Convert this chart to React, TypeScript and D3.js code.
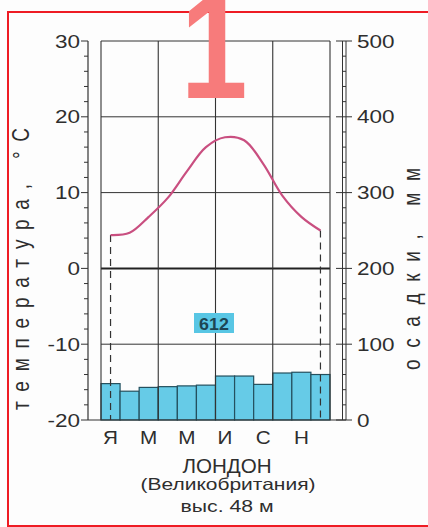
import React from 'react';
import * as d3 from 'd3';

// London climate: monthly mean temperature (°C) and precipitation (mm)
const months = ['Я', 'Ф', 'М', 'А', 'М', 'И', 'И', 'А', 'С', 'О', 'Н', 'Д'];
const temperature = [4.4, 4.7, 6.8, 9.3, 12.8, 16.0, 17.3, 16.9, 13.8, 9.6, 6.8, 5.0];
const precipitation = [48, 38, 43, 44, 45, 46, 58, 58, 47, 62, 63, 60];
const tempTicks = [30, 20, 10, 0, -10, -20];
const precTicks = [500, 400, 300, 200, 100, 0];
const titleLines = ['ЛОНДОН', '(Великобритания)', 'выс. 48 м'];

const W = 428;
const H = 527;
const FONT = '"Liberation Sans", Arial, sans-serif';
const SX = 1.25; // the scan is a bit wider than tall

// text stretched horizontally around its anchor point
const Txt = ({ x, y, sx = SX, children, ...rest }: any) => (
  <text transform={`translate(${x},${y}) scale(${sx},1)`} {...rest}>{children}</text>
);

export default function App() {
  const x = d3.scaleLinear().domain([0, 12]).range([101, 330]);
  const yT = d3.scaleLinear().domain([-20, 30]).range([420, 41]);
  const yP = d3.scaleLinear().domain([0, 500]).range([420, 41]);
  const mid = (i: number) => x(i + 0.5);

  const line = d3.line<number>()
    .x((_, i) => mid(i))
    .y(d => yT(d))
    .curve(d3.curveCatmullRom.alpha(0.5));

  const total = d3.sum(precipitation);
  const axisX = 88;
  const rA = 342.5;
  const rB = 346;
  const gridColor = '#333';
  const textColor = '#2e2e2e';

  const minorT = d3.range(-20, 31, 2);
  const minorP = d3.range(0, 501, 20);
  const oddMonths = months.map((m, i) => ({ m, i })).filter(d => d.i % 2 === 0);

  return (
    <svg width={W} height={H} style={{ position: 'absolute', left: 0, top: 0, background: '#fff' }}
      fontFamily={FONT}>
      <rect x={0} y={0} width={W} height={H} fill="#fdfdfd" />
      {/* red frame */}
      <rect x={8} y={12} width={430} height={514} fill="none" stroke="#ee1c24" strokeWidth={2} />

      {/* precipitation bars */}
      {precipitation.map((v, i) => (
        <rect key={'b' + i} x={x(i)} y={yP(v)} width={x(i + 1) - x(i)} height={yP(0) - yP(v)}
          fill="#66cbe7" stroke="#24505e" strokeWidth={1.2} />
      ))}

      {/* grid */}
      {[30, 20, 10, -10].map(t => (
        <line key={'h' + t} x1={x(0)} x2={x(12)} y1={yT(t)} y2={yT(t)} stroke={gridColor} strokeWidth={1} />
      ))}
      <line x1={x(0)} x2={x(12)} y1={yT(0)} y2={yT(0)} stroke="#222" strokeWidth={2} />
      {[0, 3, 6, 9, 12].map(m => (
        <line key={'v' + m} x1={x(m)} x2={x(m)} y1={yT(30)} y2={yT(-20)} stroke={gridColor} strokeWidth={1.1} />
      ))}
      <line x1={axisX} x2={rB} y1={yT(-20)} y2={yT(-20)} stroke={gridColor} strokeWidth={1.2} />

      {/* dashed drop lines */}
      {[0, 11].map(i => (
        <line key={'d' + i} x1={mid(i)} x2={mid(i)} y1={yT(temperature[i])} y2={yT(-20)}
          stroke="#333" strokeWidth={1.2} strokeDasharray="7,5" />
      ))}

      {/* temperature curve */}
      <path d={line(temperature) || ''} fill="none" stroke="#c94f80" strokeWidth={2.2} />

      {/* total precipitation */}
      <rect x={194} y={313} width={40} height={20} fill="#58c6e4" />
      <Txt x={214} y={329.5} sx={1.05} textAnchor="middle" fontSize={17} fontWeight="bold" fill="#1d4654">{total}</Txt>

      {/* left axis */}
      <line x1={axisX} x2={axisX} y1={yT(30)} y2={yT(-20)} stroke={gridColor} strokeWidth={1.2} />
      {minorT.map(t => (
        <line key={'lt' + t} x1={axisX - (t % 10 === 0 ? 7 : 4)} x2={axisX} y1={yT(t)} y2={yT(t)}
          stroke={gridColor} strokeWidth={1} />
      ))}
      {tempTicks.map(t => (
        <Txt key={'ll' + t} x={80} y={yT(t) + 6.5} textAnchor="end" fontSize={18} fill={textColor}>{t}</Txt>
      ))}
      <text transform={`translate(21,269) rotate(-90) scale(1,${SX})`} textAnchor="middle" dy="0.35em" fontSize={19}
        fill={textColor} textLength={282} lengthAdjust="spacing">температура, °С</text>

      {/* right axis */}
      <line x1={rA} x2={rA} y1={yP(500)} y2={yP(0)} stroke={gridColor} strokeWidth={1} />
      <line x1={rB} x2={rB} y1={yP(500)} y2={yP(0)} stroke={gridColor} strokeWidth={1} />
      {minorP.map(p => (
        <line key={'rt' + p} x1={p % 100 === 0 ? 336 : rA} x2={p % 100 === 0 ? 352 : rB} y1={yP(p)} y2={yP(p)}
          stroke={gridColor} strokeWidth={1} />
      ))}
      {precTicks.map(p => (
        <Txt key={'rl' + p} x={357} y={yP(p) + 6.5} textAnchor="start" fontSize={18} fill={textColor}>{p}</Txt>
      ))}
      <text transform={`translate(412,269) rotate(-90) scale(1,${SX})`} textAnchor="middle" dy="0.35em" fontSize={19}
        fill={textColor} textLength={202} lengthAdjust="spacing">осадки, мм</text>

      {/* month labels */}
      {oddMonths.map(d => (
        <Txt key={'m' + d.i} x={mid(d.i)} y={443.5} sx={1.15} textAnchor="middle" fontSize={18} fill={textColor}>{d.m}</Txt>
      ))}

      {/* title */}
      <Txt x={227} y={473} sx={0.98} textAnchor="middle" fontSize={21} fill={textColor}>{titleLines[0]}</Txt>
      <text x={228} y={490} textAnchor="middle" fontSize={16.5} fill={textColor}
        textLength={175} lengthAdjust="spacingAndGlyphs">{titleLines[1]}</text>
      <text x={227} y={512} textAnchor="middle" fontSize={16} fill={textColor}
        textLength={93} lengthAdjust="spacingAndGlyphs">{titleLines[2]}</text>

      {/* figure number */}
      <Txt x={214} y={98} sx={0.8} textAnchor="middle" fontSize={150} fontWeight="bold" fill="#f77b7b">1</Txt>
    </svg>
  );
}
